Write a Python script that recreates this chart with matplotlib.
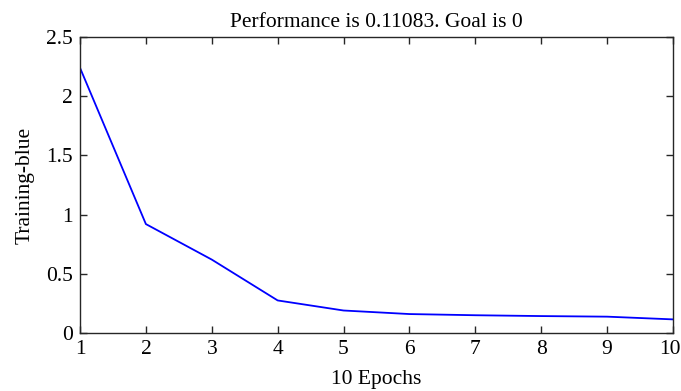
import matplotlib
matplotlib.use("Agg")
import matplotlib.pyplot as plt
import matplotlib.transforms as mtransforms

epochs = [1, 2, 3, 4, 5, 6, 7, 8, 9, 10]
perf = [2.24, 0.92, 0.62, 0.275, 0.19, 0.16, 0.15, 0.143, 0.138, 0.115]

title_txt = "Performance is 0.11083. Goal is 0"
xlabel_txt = "10 Epochs"
ylabel_txt = "Training-blue"

plt.rcParams['font.family'] = ['Liberation Serif', 'DejaVu Serif']
fs = 15.5

fig = plt.figure(figsize=(6.81, 3.91), dpi=100)
ax = fig.add_axes([80 / 681, 1 - 333 / 391, 593 / 681, 296 / 391])

ax.plot(epochs, perf, color='#0000ff', linewidth=1.3)

ax.set_xlim(1, 10)
ax.set_ylim(0, 2.5)
ax.set_xticks(epochs)
ax.set_yticks([0, 0.5, 1, 1.5, 2, 2.5])
ax.set_yticklabels(['0', '0.5', '1', '1.5', '2', '2.5'])

ax.tick_params(direction='in', top=True, right=True, length=5, width=1,
               color='#262626', labelsize=fs, pad=5)
for s in ax.spines.values():
    s.set_linewidth(1.0)
    s.set_color('#262626')

# last x label sits right at the figure edge, nudge it in a bit
last = ax.get_xticklabels()[-1]
last.set_transform(last.get_transform() +
                   mtransforms.ScaledTranslation(-3 / 100, 0, fig.dpi_scale_trans))

ax.set_title(title_txt, fontsize=fs, pad=7)
ax.set_xlabel(xlabel_txt, fontsize=fs, labelpad=8)
ax.set_ylabel(ylabel_txt, fontsize=fs, labelpad=8)

fig.savefig("out.png", dpi=100)
